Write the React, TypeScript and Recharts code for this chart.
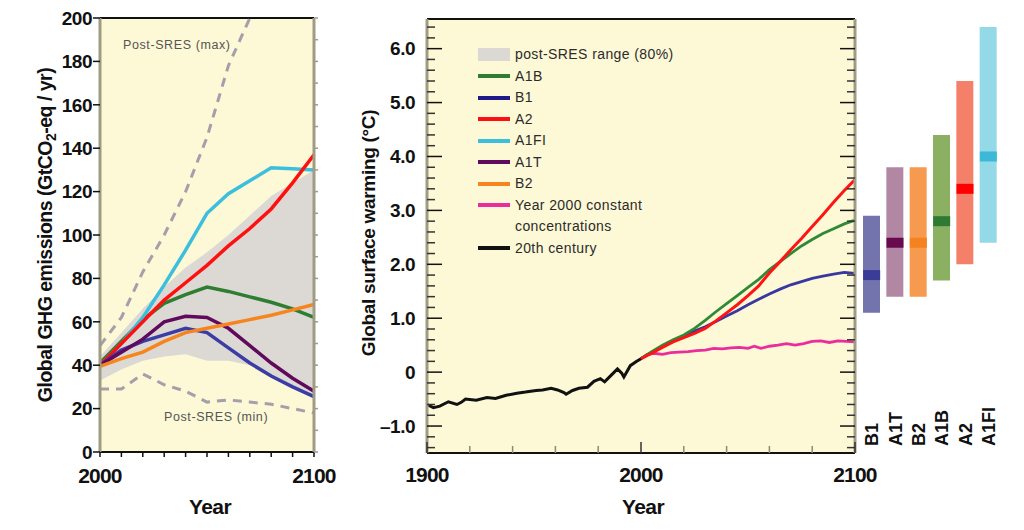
import React from 'react';
import {
  ComposedChart,
  Line,
  Area,
  Bar,
  Scatter,
  XAxis,
  YAxis,
  CartesianGrid,
  ReferenceLine,
  Legend,
  Cell,
  Label,
} from 'recharts';

// ---------------- Left panel: GHG emissions (GtCO2-eq / yr) ----------------
const emYears = [2000, 2010, 2020, 2030, 2040, 2050, 2060, 2070, 2080, 2090, 2100];
const emA1B = [41, 51, 61, 68.5, 72.5, 76, 74, 71.5, 69, 66, 62];
const emA2 = [40, 50, 60, 70, 78, 86, 95, 103, 112, 124, 137];
const emA1FI = [40, 50, 62, 77, 93, 110, 119, 125, 131, 130.5, 130];
const emA1T = [40, 46, 52, 60, 62.5, 62, 57, 49, 41, 34, 28];
const emB1 = [40, 47, 51, 54, 57, 55, 48, 41, 35, 30, 25.5];
const emB2 = [39.5, 43, 46, 51, 55, 57, 59, 61, 63, 65.5, 68];
const emRangeLow = [33, 38, 42, 44, 45, 42, 42, 40, 36, 30, 26];
const emRangeHigh = [44, 55, 66, 76, 85, 92, 100, 109, 118, 124, 130];
const emPostMax = [49, 62, 83, 100, 120, 145, 178, 200, 225, null, null];
const emPostMin = [29, 29, 36, 31, 28, 23, 24, 23, 22, 20, 18];

const emYTicks = [0, 20, 40, 60, 80, 100, 120, 140, 160, 180, 200];
const emYRightTicks = [0, 10, 20, 30, 40, 50, 60, 70, 80, 90, 100, 110, 120, 130, 140, 150, 160, 170, 180, 190, 200];
const emXTicks = [2000, 2010, 2020, 2030, 2040, 2050, 2060, 2070, 2080, 2090, 2100];
const emXLabels = [2000, 2100];

const emData = emYears.map((year, i) => ({
  year,
  A1B: emA1B[i],
  A2: emA2[i],
  A1FI: emA1FI[i],
  A1T: emA1T[i],
  B1: emB1[i],
  B2: emB2[i],
  range: [emRangeLow[i], emRangeHigh[i]],
  postMax: emPostMax[i],
  postMin: emPostMin[i],
}));

// ---------------- Middle panel: global surface warming (°C) ----------------
const histYears = [1900, 1903, 1906, 1910, 1914, 1916, 1918, 1923, 1928, 1932, 1937, 1942, 1946, 1951, 1954, 1958, 1961, 1964, 1965, 1968, 1971, 1975, 1978, 1981, 1983, 1986, 1989, 1991, 1992, 1995, 1998, 2000];
const histTemps = [-0.6, -0.66, -0.63, -0.55, -0.6, -0.56, -0.5, -0.52, -0.47, -0.49, -0.43, -0.39, -0.37, -0.34, -0.33, -0.3, -0.33, -0.38, -0.41, -0.34, -0.3, -0.28, -0.17, -0.12, -0.18, -0.06, 0.06, -0.02, -0.09, 0.12, 0.2, 0.25];

const projYears = [2000, 2005, 2010, 2015, 2020, 2025, 2030, 2035, 2040, 2045, 2050, 2055, 2060, 2065, 2070, 2075, 2080, 2085, 2090, 2095, 2100];
const tA2 = [0.25, 0.35, 0.46, 0.56, 0.64, 0.72, 0.81, 0.95, 1.1, 1.25, 1.42, 1.6, 1.84, 2.05, 2.27, 2.48, 2.7, 2.92, 3.15, 3.37, 3.57];
const tA1B = [0.25, 0.38, 0.5, 0.6, 0.69, 0.81, 0.96, 1.12, 1.27, 1.42, 1.57, 1.72, 1.9, 2.05, 2.2, 2.34, 2.46, 2.57, 2.66, 2.75, 2.82];
const tB1 = [0.25, 0.37, 0.48, 0.58, 0.67, 0.76, 0.84, 0.94, 1.04, 1.14, 1.25, 1.35, 1.45, 1.54, 1.62, 1.68, 1.74, 1.78, 1.82, 1.85, 1.83];

const commitYears = [2000, 2003, 2006, 2010, 2014, 2018, 2022, 2026, 2030, 2034, 2038, 2042, 2046, 2050, 2053, 2056, 2060, 2064, 2068, 2072, 2076, 2080, 2084, 2088, 2092, 2096, 2100];
const commitTemps = [0.25, 0.33, 0.35, 0.33, 0.36, 0.37, 0.38, 0.4, 0.41, 0.44, 0.43, 0.45, 0.46, 0.44, 0.48, 0.44, 0.48, 0.5, 0.53, 0.5, 0.53, 0.57, 0.58, 0.55, 0.58, 0.57, 0.56];

const tempTicks = [-1.4, -1.2, -1, -0.8, -0.6, -0.4, -0.2, 0, 0.2, 0.4, 0.6, 0.8, 1, 1.2, 1.4, 1.6, 1.8, 2, 2.2, 2.4, 2.6, 2.8, 3, 3.2, 3.4, 3.6, 3.8, 4, 4.2, 4.4, 4.6, 4.8, 5, 5.2, 5.4, 5.6, 5.8, 6, 6.2, 6.4];
const tempMajorTicks = [-1, 0, 1, 2, 3, 4, 5, 6];
const tempMajorLabels = ['\u20131.0', '0', '1.0', '2.0', '3.0', '4.0', '5.0', '6.0'];
const tempXTicks = [1900, 1920, 1940, 1960, 1980, 2000, 2020, 2040, 2060, 2080, 2100];
const tempXLabels = [1900, 2000, 2100];
const TEMP_MIN = -1.5;
const TEMP_MAX = 6.55;

const histData = histYears.map((year, i) => ({ year, t: histTemps[i] }));
const a2Data = projYears.map((year, i) => ({ year, t: tA2[i] }));
const a1bData = projYears.map((year, i) => ({ year, t: tA1B[i] }));
const b1Data = projYears.map((year, i) => ({ year, t: tB1[i] }));
const commitData = commitYears.map((year, i) => ({ year, t: commitTemps[i] }));

// ---------------- Right: likely ranges by 2100 ----------------
const scenarioNames = ['B1', 'A1T', 'B2', 'A1B', 'A2', 'A1FI'];
const scenarioLow = [1.1, 1.4, 1.4, 1.7, 2.0, 2.4];
const scenarioHigh = [2.9, 3.8, 3.8, 4.4, 5.4, 6.4];
const scenarioBest = [1.8, 2.4, 2.4, 2.8, 3.4, 4.0];
const scenarioBarColors = ['#7373ad', '#b287a4', '#f59a4f', '#8bb062', '#f58069', '#93d9e8'];
const scenarioBestColors = ['#3b3b98', '#6a0a4e', '#f5821f', '#2e7a32', '#ff0000', '#3bb9d6'];

const scenarioData = scenarioNames.map((name, i) => ({
  name,
  range: [scenarioLow[i], scenarioHigh[i]],
  best: scenarioBest[i],
}));

// ---------------- styles ----------------
const FONT = '"Liberation Sans", Arial, Helvetica, sans-serif';
const BG = '#fdf8d6';
const FRAME_GRAY = '#a09b84';
const RANGE_GRAY = '#dcd9d5';
const DASH_GRAY = '#a59eab';
const COL = {
  A1B: '#2f7d32',
  A2: '#ff1010',
  A1FI: '#3cbfdc',
  A1T: '#5f0a5c',
  B1: '#3c3ca5',
  B2: '#f7851f',
};
const TCOL = {
  A1B: '#2f8a35',
  A2: '#ff1414',
  B1: '#3838a0',
  commit: '#ec2c9c',
  hist: '#111111',
};

const legendItems = [
  { label: 'post-SRES range (80%)', label2: '', color: RANGE_GRAY, kind: 'box' },
  { label: 'A1B', label2: '', color: '#2e7d32', kind: 'line' },
  { label: 'B1', label2: '', color: '#1f1a8a', kind: 'line' },
  { label: 'A2', label2: '', color: '#ff1010', kind: 'line' },
  { label: 'A1FI', label2: '', color: '#3cbfdc', kind: 'line' },
  { label: 'A1T', label2: '', color: '#5f0a5c', kind: 'line' },
  { label: 'B2', label2: '', color: '#f7851f', kind: 'line' },
  { label: 'Year 2000 constant', label2: 'concentrations', color: '#ec2c9c', kind: 'line' },
  { label: '20th century', label2: '', color: '#111111', kind: 'line' },
];

// ---------------- tick renderers ----------------
function EmLeftTick(props: any) {
  const { x, y, payload } = props;
  return (
    <g>
      <line x1={x - 7} x2={x} y1={y} y2={y} stroke="#111" strokeWidth={1.5} />
      <text x={x - 8} y={y} dy="0.36em" textAnchor="end" fontFamily={FONT} fontWeight="bold" fontSize={19} letterSpacing={-0.5} fill="#111">
        {payload.value}
      </text>
    </g>
  );
}

function EmRightTick(props: any) {
  const { x, y } = props;
  return <line x1={x} x2={x + 4} y1={y} y2={y} stroke={FRAME_GRAY} strokeWidth={1.5} />;
}

function EmBottomTick(props: any) {
  const { x, y, payload } = props;
  const show = emXLabels.indexOf(payload.value) >= 0;
  return (
    <g>
      <line x1={x} x2={x} y1={y} y2={y + 5} stroke="#111" strokeWidth={1.5} />
      {show && (
        <text x={x} y={y + 30.5} textAnchor="middle" fontFamily={FONT} fontWeight="bold" fontSize={21} letterSpacing={-0.8} fill="#111">
          {payload.value}
        </text>
      )}
    </g>
  );
}

function TempLeftTick(props: any) {
  const { x, y, payload } = props;
  const i = tempMajorTicks.indexOf(payload.value);
  const major = i >= 0;
  return (
    <g>
      <line x1={x} x2={x + (major ? 15 : 8)} y1={y} y2={y} stroke={major ? '#111' : '#333'} strokeWidth={1.5} />
      {major && (
        <text x={x - 12} y={y} dy="0.36em" textAnchor="end" fontFamily={FONT} fontWeight="bold" fontSize={19} letterSpacing={-0.5} fill="#111">
          {tempMajorLabels[i]}
        </text>
      )}
    </g>
  );
}

function TempRightTick(props: any) {
  const { x, y, payload } = props;
  const major = tempMajorTicks.indexOf(payload.value) >= 0;
  return <line x1={x} x2={x - (major ? 15 : 8)} y1={y} y2={y} stroke={major ? '#111' : '#333'} strokeWidth={1.5} />;
}

function TempBottomTick(props: any) {
  const { x, y, payload } = props;
  const show = tempXLabels.indexOf(payload.value) >= 0;
  return (
    <g>
      <line x1={x} x2={x} y1={y} y2={y - (show ? 11 : 7)} stroke={show ? '#333' : '#8a8a7a'} strokeWidth={1.5} />
      {show && (
        <text x={x} y={y + 28.5} textAnchor="middle" fontFamily={FONT} fontWeight="bold" fontSize={21} letterSpacing={-0.8} fill="#111">
          {payload.value}
        </text>
      )}
    </g>
  );
}

function ScenarioTick(props: any) {
  const { x, y, payload } = props;
  const tx = x + 6.5;
  const ty = y - 7;
  return (
    <text x={tx} y={ty} transform={`rotate(-90 ${tx} ${ty})`} fontFamily={FONT} fontWeight="bold" fontSize={18} fill="#111">
      {payload.value}
    </text>
  );
}

function BestMarker(props: any) {
  const { cx, cy, payload } = props;
  const idx = scenarioNames.indexOf(payload.name);
  return <rect x={cx - 8.5} y={cy - 5} width={17} height={10} fill={scenarioBestColors[idx]} />;
}

function TempLegend() {
  return (
    <div style={{ fontFamily: FONT, fontSize: 14, color: '#2b2b2b', letterSpacing: 0.4 }}>
      {legendItems.map((it) => (
        <div key={it.label} style={{ display: 'flex', alignItems: 'flex-start' }}>
          <div style={{ width: 32, height: 21.5, position: 'relative', marginRight: 5, flex: 'none' }}>
            <div
              style={{
                position: 'absolute',
                left: 0,
                top: it.kind === 'box' ? 4.25 : 8.75,
                width: 32,
                height: it.kind === 'box' ? 13 : 4,
                background: it.color,
              }}
            />
          </div>
          <div style={{ lineHeight: '21.5px', whiteSpace: 'nowrap' }}>
            {it.label}
            {it.label2 ? (
              <>
                <br />
                {it.label2}
              </>
            ) : null}
          </div>
        </div>
      ))}
    </div>
  );
}

const axisTitleStyle = {
  fontFamily: FONT,
  fontWeight: 'bold' as const,
  fill: '#111',
};

const noteStyle = {
  position: 'absolute' as const,
  fontFamily: FONT,
  fontSize: 12.5,
  color: '#555',
  letterSpacing: 0.6,
  whiteSpace: 'nowrap' as const,
};

export default function App() {
  return (
    <div style={{ position: 'fixed', left: 0, top: 0, width: 1024, height: 530, background: '#fff', overflow: 'hidden' }}>
      {/* Left panel */}
      <div style={{ position: 'absolute', left: 0, top: 0 }}>
        <ComposedChart width={350} height={530} data={emData} margin={{ top: 18, right: 20, bottom: 38, left: 0 }}>
          <CartesianGrid horizontal={false} vertical={false} fill={BG} fillOpacity={1} stroke="none" />
          <XAxis
            dataKey="year"
            type="number"
            domain={[2000, 2100]}
            ticks={emXTicks}
            interval={0}
            height={40}
            tickSize={0}
            tickMargin={0}
            tickLine={false}
            axisLine={{ stroke: '#111', strokeWidth: 2 }}
            tick={<EmBottomTick />}
            label={
              <Label
                content={() => (
                  <text x={210} y={514} textAnchor="middle" fontSize={21} letterSpacing={-0.6} {...axisTitleStyle}>
                    Year
                  </text>
                )}
              />
            }
          />
          <YAxis
            domain={[0, 200]}
            allowDataOverflow
            ticks={emYTicks}
            interval={0}
            width={100}
            tickSize={0}
            tickMargin={0}
            tickLine={false}
            axisLine={{ stroke: FRAME_GRAY, strokeWidth: 3 }}
            tick={<EmLeftTick />}
            label={
              <Label
                content={() => (
                  <text x={51.5} y={235} transform="rotate(-90 51.5 235)" textAnchor="middle" fontSize={19.5} letterSpacing={-0.5} {...axisTitleStyle}>
                    Global GHG emissions (GtCO
                    <tspan dy={4} fontSize={14}>2</tspan>
                    <tspan dy={-4}>-eq / yr)</tspan>
                  </text>
                )}
              />
            }
          />
          <YAxis
            yAxisId="r"
            orientation="right"
            domain={[0, 200]}
            allowDataOverflow
            ticks={emYRightTicks}
            interval={0}
            width={16}
            tickSize={0}
            tickMargin={0}
            tickLine={false}
            axisLine={{ stroke: FRAME_GRAY, strokeWidth: 3 }}
            tick={<EmRightTick />}
          />
          <ReferenceLine y={200} stroke="#111" strokeWidth={2} />
          <Area dataKey="range" fill={RANGE_GRAY} fillOpacity={1} stroke="none" isAnimationActive={false} />
          <Line dataKey="postMin" stroke={DASH_GRAY} strokeWidth={3} strokeDasharray="9 7" dot={false} activeDot={false} isAnimationActive={false} />
          <Line dataKey="postMax" stroke={DASH_GRAY} strokeWidth={3} strokeDasharray="9 7" dot={false} activeDot={false} isAnimationActive={false} />
          <Line dataKey="A1B" stroke={COL.A1B} strokeWidth={3.5} dot={false} activeDot={false} isAnimationActive={false} />
          <Line dataKey="A1FI" stroke={COL.A1FI} strokeWidth={3.5} dot={false} activeDot={false} isAnimationActive={false} />
          <Line dataKey="A2" stroke={COL.A2} strokeWidth={3.5} dot={false} activeDot={false} isAnimationActive={false} />
          <Line dataKey="B1" stroke={COL.B1} strokeWidth={3.5} dot={false} activeDot={false} isAnimationActive={false} />
          <Line dataKey="A1T" stroke={COL.A1T} strokeWidth={3.5} dot={false} activeDot={false} isAnimationActive={false} />
          <Line dataKey="B2" stroke={COL.B2} strokeWidth={3.5} dot={false} activeDot={false} isAnimationActive={false} />
        </ComposedChart>
      </div>
      <div style={{ ...noteStyle, left: 123, top: 38 }}>Post-SRES (max)</div>
      <div style={{ ...noteStyle, left: 164, top: 410 }}>Post-SRES (min)</div>

      {/* Middle panel */}
      <div style={{ position: 'absolute', left: 340, top: 0 }}>
        <ComposedChart width={560} height={530} margin={{ top: 19, right: 40, bottom: 37, left: 0 }}>
          <CartesianGrid horizontal={false} vertical={false} fill={BG} fillOpacity={1} stroke="none" />
          <XAxis
            dataKey="year"
            type="number"
            domain={[1900, 2100]}
            ticks={tempXTicks}
            interval={0}
            height={40}
            tickSize={0}
            tickMargin={0}
            tickLine={false}
            axisLine={{ stroke: '#111', strokeWidth: 2 }}
            tick={<TempBottomTick />}
            label={
              <Label
                content={() => (
                  <text x={303} y={514} textAnchor="middle" fontSize={21} letterSpacing={-0.6} {...axisTitleStyle}>
                    Year
                  </text>
                )}
              />
            }
          />
          <YAxis
            domain={[TEMP_MIN, TEMP_MAX]}
            allowDataOverflow
            ticks={tempTicks}
            interval={0}
            width={87}
            tickSize={0}
            tickMargin={0}
            tickLine={false}
            axisLine={{ stroke: FRAME_GRAY, strokeWidth: 3 }}
            tick={<TempLeftTick />}
            label={
              <Label
                content={() => (
                  <text x={35} y={233} transform="rotate(-90 35 233)" textAnchor="middle" fontSize={19} letterSpacing={-0.3} {...axisTitleStyle}>
                    Global surface warming (°C)
                  </text>
                )}
              />
            }
          />
          <YAxis
            yAxisId="r"
            orientation="right"
            domain={[TEMP_MIN, TEMP_MAX]}
            allowDataOverflow
            ticks={tempTicks}
            interval={0}
            width={5}
            tickSize={0}
            tickMargin={0}
            tickLine={false}
            axisLine={{ stroke: FRAME_GRAY, strokeWidth: 3 }}
            tick={<TempRightTick />}
          />
          <ReferenceLine y={TEMP_MAX} stroke="#111" strokeWidth={2} />
          <Legend
            layout="vertical"
            align="center"
            verticalAlign="middle"
            content={<TempLegend />}
            wrapperStyle={{ left: 138, top: 44, width: 260, height: 225 }}
          />
          <Line data={commitData} dataKey="t" stroke={TCOL.commit} strokeWidth={2.8} dot={false} activeDot={false} isAnimationActive={false} />
          <Line data={b1Data} dataKey="t" stroke={TCOL.B1} strokeWidth={2.8} dot={false} activeDot={false} isAnimationActive={false} />
          <Line data={a1bData} dataKey="t" stroke={TCOL.A1B} strokeWidth={2.8} dot={false} activeDot={false} isAnimationActive={false} />
          <Line data={a2Data} dataKey="t" stroke={TCOL.A2} strokeWidth={3} dot={false} activeDot={false} isAnimationActive={false} />
          <Line data={histData} dataKey="t" stroke={TCOL.hist} strokeWidth={3} dot={false} activeDot={false} isAnimationActive={false} />
        </ComposedChart>
      </div>

      {/* Right: likely ranges */}
      <div style={{ position: 'absolute', left: 860, top: 0 }}>
        <ComposedChart width={140} height={530} data={scenarioData} margin={{ top: 19, right: 0, bottom: 47, left: 0 }}>
          <XAxis
            dataKey="name"
            type="category"
            height={30}
            interval={0}
            axisLine={false}
            tickLine={false}
            tickSize={0}
            tickMargin={0}
            tick={<ScenarioTick />}
          />
          <YAxis hide domain={[TEMP_MIN, TEMP_MAX]} allowDataOverflow />
          <Bar dataKey="range" barSize={17} isAnimationActive={false}>
            {scenarioData.map((d, i) => (
              <Cell key={d.name} fill={scenarioBarColors[i]} />
            ))}
          </Bar>
          <Scatter dataKey="best" shape={<BestMarker />} isAnimationActive={false} />
        </ComposedChart>
      </div>
    </div>
  );
}
